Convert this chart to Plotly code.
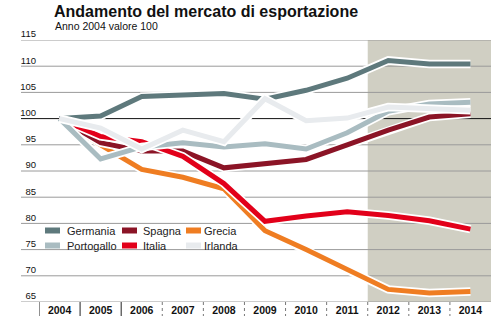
import plotly.graph_objects as go

# ---------------- data ----------------
years = [str(y) for y in range(2004, 2015)]
germania = [100, 100.5, 104.2, 104.6, 104.8, 103.7, 105.4, 107.7, 111.1, 110.4, 110.4]
portogallo = [100, 92.3, 94.6, 95.4, 94.6, 95.2, 94.2, 97.3, 101.4, 102.8, 103.1]
irlanda = [100, 98.2, 94.2, 97.8, 95.6, 103.8, 99.6, 100.1, 102.2, 101.9, 101.6]
spagna = [100, 95.4, 93.8, 93.8, 90.6, 91.3, 92.2, 95.0, 97.8, 100.3, 100.9]
italia = [100, 96.6, 95.6, 92.8, 87.6, 80.4, 81.4, 82.2, 81.5, 80.5, 78.9]
grecia = [100, 95.0, 90.3, 88.8, 86.6, 78.6, 75.0, 71.3, 67.4, 66.7, 67.0]
yticks = [65, 70, 75, 80, 85, 90, 95, 100, 105, 110, 115]

title = "Andamento del mercato di esportazione"
subtitle = "Anno 2004 valore 100"

# ---------------- style ----------------
colors = {
    "Germania": "#5e797c",
    "Portogallo": "#a9bcc1",
    "Spagna": "#8b1426",
    "Italia": "#e2001a",
    "Grecia": "#ef7d22",
    "Irlanda": "#e8ebee",
}
series = {
    "Germania": germania,
    "Grecia": grecia,
    "Spagna": spagna,
    "Italia": italia,
    "Portogallo": portogallo,
    "Irlanda": irlanda,
}

W, H = 499, 324
ML, MR, MT, MB = 39, 8, 40, 22
PW, PH = W - ML - MR, H - MT - MB


def px(x):
    return (x - ML) / PW


def py(y):
    return (H - MB - y) / PH


FONT = "Liberation Sans, Arial, sans-serif"

fig = go.Figure()
for name, vals in series.items():
    fig.add_trace(go.Scatter(x=years, y=vals, mode="lines",
                             line=dict(color="white", width=8.5),
                             showlegend=False, hoverinfo="skip"))
    fig.add_trace(go.Scatter(x=years, y=vals, mode="lines", name=name,
                             line=dict(color=colors[name], width=5),
                             showlegend=False))

shapes = []
# shaded forecast area
shapes.append(dict(type="rect", xref="x", yref="paper", x0=7.5, x1=10.5, y0=0, y1=1,
                   fillcolor="#d0cfc3", line=dict(width=0), layer="below"))
# horizontal grid lines (extend left of the plot)
for v in yticks:
    shapes.append(dict(type="line", xref="paper", yref="y", x0=px(21), x1=1, y0=v, y1=v,
                       line=dict(color="#111111" if v == 100 else "#9a9a9a", width=1),
                       layer="below"))
# category separators below the axis
for i in range(len(years)):
    shapes.append(dict(type="line", xref="x", yref="paper", x0=i - 0.5, x1=i - 0.5,
                       y0=0, y1=py(316),
                       line=dict(color="#222222" if i < 3 else "#777777", width=1,
                                 dash="solid" if i < 3 else "dot")))

annotations = []
# manual legend
legend_rows = [["Germania", "Spagna", "Grecia"], ["Portogallo", "Italia", "Irlanda"]]
sw_x = [(45, 60, 65), (122, 137, 141), (186, 201, 202)]
row_y = [230.5, 245.5]
for r, row in enumerate(legend_rows):
    for c, name in enumerate(row):
        x0, x1, tx = sw_x[c]
        yc = row_y[r]
        shapes.append(dict(type="rect", xref="paper", yref="paper",
                           x0=px(x0), x1=px(x1), y0=py(yc + 3), y1=py(yc - 3),
                           fillcolor=colors[name], line=dict(width=0), layer="above"))
        annotations.append(dict(xref="paper", yref="paper", x=px(tx), y=py(yc),
                                xanchor="left", yanchor="middle", showarrow=False,
                                text=name, font=dict(family=FONT, size=11, color="#222222")))

annotations.append(dict(xref="paper", yref="paper", x=px(52), y=py(11),
                        xanchor="left", yanchor="middle", showarrow=False,
                        text="<b>" + title + "</b>",
                        font=dict(family=FONT, size=16, color="#111111")))
annotations.append(dict(xref="paper", yref="paper", x=px(53), y=py(26),
                        xanchor="left", yanchor="middle", showarrow=False,
                        text=subtitle,
                        font=dict(family=FONT, size=10.5, color="#111111")))

fig.update_layout(
    width=W, height=H,
    margin=dict(l=ML, r=MR, t=MT, b=MB, pad=0),
    paper_bgcolor="white", plot_bgcolor="white",
    shapes=shapes, annotations=annotations,
    showlegend=False,
    xaxis=dict(type="category", range=[-0.5, 10.5], showgrid=False, zeroline=False,
               showline=False, ticks="", fixedrange=True,
               tickfont=dict(family=FONT, size=10.5, color="#111111", weight="bold")),
    yaxis=dict(range=[65, 115], tickvals=yticks, showgrid=False, zeroline=False,
               showline=False, ticks="", ticklabelshift=-6, ticklabelstandoff=2,
               tickfont=dict(family=FONT, size=9.5, color="#111111")),
)

fig.write_html("out.html")
